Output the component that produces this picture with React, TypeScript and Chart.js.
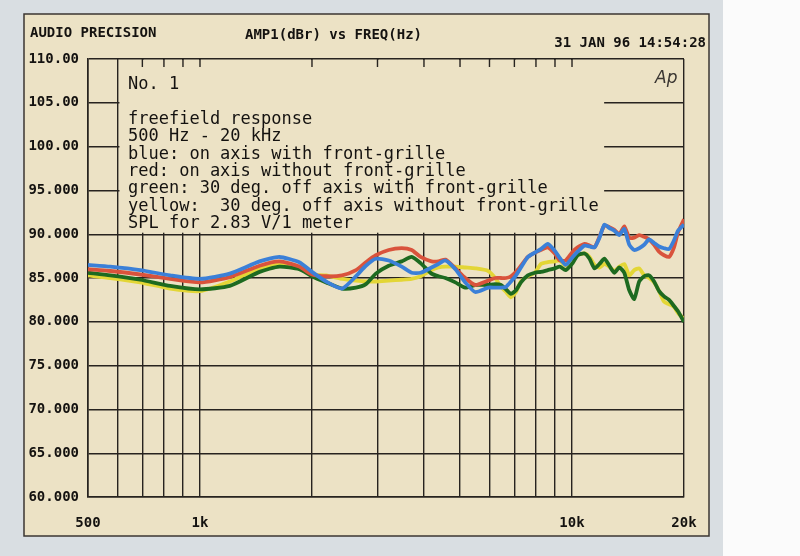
import { useEffect, useRef } from "react";
import { Chart, registerables } from "chart.js";
import type { Plugin, Scale } from "chart.js";

Chart.register(...registerables);

// measurement frequencies (Hz)
const freqs = [
  500, 574, 691, 831, 1000, 1202, 1446, 1635, 1849,
  2000, 2183, 2409, 2626, 2792, 2969, 3216, 3485, 3706, 3917,
  4191, 4375, 4568, 4858, 5165, 5494, 5952, 6214, 6446, 6648,
  6854, 7071, 7290, 7610, 7950, 8245, 8608, 8986, 9268, 9616,
  10040, 10353, 10810, 11147, 11494, 11852, 12222, 12603, 12996, 13401,
  13818, 14255, 14698, 15154, 15629, 16116, 16620, 17143, 17678, 18233,
  18800, 19270, 20000,
];

// blue: on axis with front-grille
const blueDb = [
  86.5, 86.3, 85.9, 85.3, 84.9, 85.5, 86.9, 87.4, 86.8,
  85.7, 84.6, 83.8, 85.2, 86.4, 87.2, 87.0, 86.3, 85.6, 85.6,
  86.2, 86.6, 87.0, 86.0, 84.5, 83.4, 83.9, 83.9, 83.9, 84.0,
  84.6, 85.3, 86.2, 87.4, 87.9, 88.3, 88.9, 88.1, 87.3, 86.5,
  87.4, 88.0, 88.7, 88.6, 88.5, 89.6, 91.1, 90.7, 90.4, 89.9,
  90.6, 88.8, 88.2, 88.4, 88.8, 89.4, 89.0, 88.6, 88.4, 88.3,
  89.3, 90.4, 91.1,
];

// red: on axis without front-grille
const redDb = [
  86.0, 85.8, 85.4, 84.9, 84.5, 85.1, 86.4, 86.9, 86.3,
  85.4, 85.2, 85.3, 85.9, 86.8, 87.6, 88.2, 88.4, 88.2, 87.4,
  86.9, 86.9, 87.1, 86.1, 85.0, 84.2, 84.7, 85.0, 85.0, 85.0,
  85.2, 85.7, 86.4, 87.4, 87.9, 88.2, 88.5, 87.8, 87.0, 87.0,
  88.0, 88.5, 88.9, 88.7, 88.5, 89.7, 91.0, 90.8, 90.5, 90.0,
  90.9, 89.6, 89.6, 89.9, 89.7, 89.4, 88.8, 88.0, 87.6, 87.4,
  88.5, 90.2, 91.7,
];

// green: 30 deg. off axis with front-grille
const greenDb = [
  85.6, 85.3, 84.8, 84.1, 83.7, 84.1, 85.7, 86.3, 86.0,
  85.2, 84.5, 83.8, 83.9, 84.3, 85.5, 86.4, 86.9, 87.4, 86.7,
  85.5, 85.2, 85.0, 84.5, 83.9, 84.2, 84.2, 84.3, 84.2, 83.7,
  83.2, 83.6, 84.5, 85.3, 85.6, 85.7, 85.9, 86.1, 86.3, 85.9,
  86.7, 87.6, 87.8, 87.2, 86.1, 86.6, 87.2, 86.4, 85.6, 86.2,
  85.6, 83.6, 82.6, 84.6, 85.2, 85.3, 84.6, 83.5, 82.9, 82.5,
  81.8, 81.2, 80.0,
];

// yellow: 30 deg. off axis without front-grille
const yellowDb = [
  85.3, 85.0, 84.5, 83.8, 83.5, 84.6, 86.1, 86.6, 86.1,
  85.4, 85.3, 84.9, 84.7, 84.6, 84.6, 84.7, 84.8, 84.9, 85.2,
  85.9, 86.2, 86.3, 86.3, 86.2, 86.1, 85.8, 85.0, 84.0, 83.4,
  82.8, 83.4, 84.6, 85.2, 85.6, 86.6, 86.8, 86.9, 87.0, 86.4,
  86.9, 87.6, 87.8, 87.4, 86.5, 86.2, 86.6, 86.3, 85.8, 86.3,
  86.6, 85.3, 85.9, 86.1, 85.3, 85.0, 84.5, 83.5, 82.3, 82.0,
  81.7, 81.0, 80.3,
];

const xGridFreqs = [
  500, 600, 700, 800, 900, 1000, 2000, 3000, 4000, 5000, 6000, 7000, 8000,
  9000, 10000, 20000,
];
const xLabelFreqs = [500, 1000, 10000, 20000];
const xLabels = ["500", "1k", "10k", "20k"];

const yTicks = [60, 65, 70, 75, 80, 85, 90, 95, 100, 105, 110];
const yLabels = [
  "60.000", "65.000", "70.000", "75.000", "80.000", "85.000",
  "90.000", "95.000", "100.00", "105.00", "110.00",
];

const noteLines = [
  "No. 1",
  "",
  "freefield response",
  "500 Hz - 20 kHz",
  "blue: on axis with front-grille",
  "red: on axis without front-grille",
  "green: 30 deg. off axis with front-grille",
  "yellow:  30 deg. off axis without front-grille",
  "SPL for 2.83 V/1 meter",
];

const PAPER = "#ece2c5";
const INK = "#27231f";
const TEXT = "#141210";
const MONO = "'DejaVu Sans Mono', monospace";

const pagePlugin: Plugin<"line"> = {
  id: "page",
  beforeDraw(chart) {
    const { ctx, width, height } = chart;
    ctx.save();
    ctx.fillStyle = "#d9dee2";
    ctx.fillRect(0, 0, width, height);
    ctx.fillStyle = "#fbfbfb";
    ctx.fillRect(723, 0, width - 723, height);
    ctx.fillStyle = PAPER;
    ctx.fillRect(24, 14, 685, 522);
    ctx.strokeStyle = "#3b3632";
    ctx.lineWidth = 1.5;
    ctx.strokeRect(24, 14, 685, 522);

    ctx.fillStyle = TEXT;
    ctx.font = `bold 14px ${MONO}`;
    ctx.textBaseline = "middle";
    ctx.textAlign = "left";
    ctx.fillText("AUDIO PRECISION", 30, 33);
    ctx.fillText("AMP1(dBr) vs FREQ(Hz)", 245, 35);
    ctx.textAlign = "right";
    ctx.fillText("31 JAN 96 14:54:28", 706, 43);
    ctx.restore();
  },
};

const notesPlugin: Plugin<"line"> = {
  id: "notes",
  beforeDatasetsDraw(chart) {
    const { ctx, chartArea } = chart;
    const xs = chart.scales.x;
    const ys = chart.scales.y;
    const left = xs.getPixelForValue(600) + 2;
    const right = xs.getPixelForValue(12200);
    const top = chartArea.top + 1;
    const bottom = ys.getPixelForValue(90) - 1.5;
    ctx.save();
    ctx.fillStyle = PAPER;
    ctx.fillRect(left, top, right - left, bottom - top);

    ctx.strokeStyle = INK;
    ctx.lineWidth = 1.4;
    ctx.beginPath();
    xGridFreqs.forEach((f) => {
      const px = xs.getPixelForValue(f);
      if (px > left && px < right) {
        ctx.moveTo(px, chartArea.top);
        ctx.lineTo(px, chartArea.top + 8);
      }
    });
    ctx.stroke();

    ctx.fillStyle = TEXT;
    ctx.font = `17px ${MONO}`;
    ctx.textAlign = "left";
    ctx.textBaseline = "middle";
    noteLines.forEach((line, i) => {
      ctx.fillText(line, 128, 85 + i * 17.3);
    });

    ctx.fillStyle = "#3a3632";
    ctx.font = `italic 300 17px 'DejaVu Sans', sans-serif`;
    ctx.fillText("Ap", 655, 79);
    ctx.restore();
  },
};

export default function App() {
  const canvasRef = useRef<HTMLCanvasElement>(null);

  useEffect(() => {
    if (!canvasRef.current) return;
    const series = [
      { label: "blue", data: blueDb, color: "#3b80d8" },
      { label: "red", data: redDb, color: "#d9533c" },
      { label: "green", data: greenDb, color: "#1d6a20" },
      { label: "yellow", data: yellowDb, color: "#e3d636" },
    ];
    const chart = new Chart(canvasRef.current, {
      type: "line",
      data: {
        datasets: series.map((s) => ({
          label: s.label,
          data: freqs.map((f, i) => ({ x: f, y: s.data[i] })),
          borderColor: s.color,
          backgroundColor: s.color,
          borderWidth: 3.8,
          pointRadius: 0,
          tension: 0.2,
          fill: false,
        })),
      },
      options: {
        animation: false,
        responsive: false,
        events: [],
        layout: { padding: { left: 0, right: 116, top: 59, bottom: 0 } },
        plugins: {
          legend: { display: false },
          tooltip: { enabled: false },
        },
        scales: {
          x: {
            type: "logarithmic",
            min: 500,
            max: 20000,
            afterBuildTicks: (scale: Scale) => {
              scale.ticks = xGridFreqs.map((value) => ({ value }));
            },
            afterFit: (scale: Scale) => {
              scale.height = 59;
            },
            grid: { color: INK, lineWidth: 1.4, drawTicks: false },
            border: { color: INK, width: 1.6 },
            ticks: {
              autoSkip: false,
              maxRotation: 0,
              padding: 18,
              color: TEXT,
              font: { family: MONO, size: 14, weight: "bold" },
              callback: (value) => {
                const i = xLabelFreqs.indexOf(Number(value));
                return i >= 0 ? xLabels[i] : "";
              },
            },
          },
          y: {
            min: 60,
            max: 110,
            afterFit: (scale: Scale) => {
              scale.width = 88;
            },
            grid: { color: INK, lineWidth: 1.4, drawTicks: false },
            border: { color: INK, width: 1.6 },
            ticks: {
              stepSize: 5,
              padding: 9,
              color: TEXT,
              font: { family: MONO, size: 14, weight: "bold" },
              callback: (value) => {
                const i = yTicks.indexOf(Number(value));
                return i >= 0 ? yLabels[i] : "";
              },
            },
          },
        },
      },
      plugins: [pagePlugin, notesPlugin],
    });
    return () => chart.destroy();
  }, []);

  return (
    <div style={{ position: "fixed", left: 0, top: 0, width: 800, height: 556 }}>
      <canvas ref={canvasRef} width={800} height={556} style={{ display: "block" }} />
    </div>
  );
}
